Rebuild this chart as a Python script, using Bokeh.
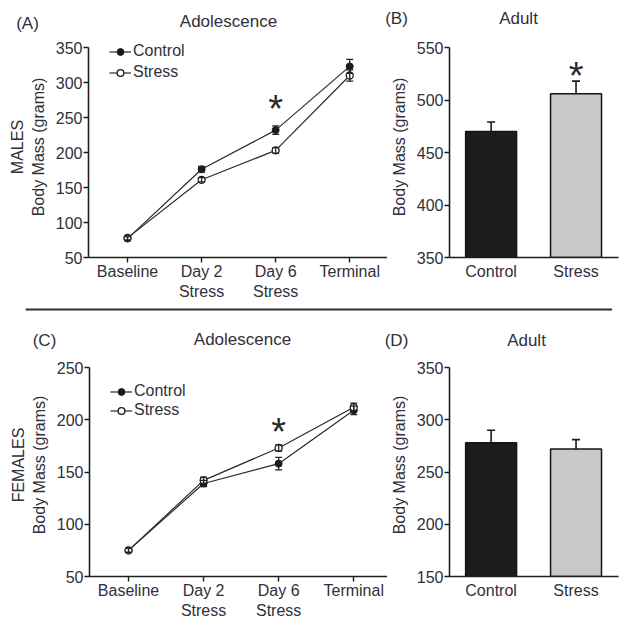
from bokeh.plotting import figure
from bokeh.models import (ColumnDataSource, Whisker, TeeHead, FixedTicker, Legend,
                          LegendItem, Label, Range1d, Span, Spacer)
from bokeh.layouts import column, row
from bokeh.embed import file_html
from bokeh.resources import INLINE
from bokeh.core.properties import value

# ---------------- data ----------------
timepoints = ["Baseline", "Day 2\nStress", "Day 6\nStress", "Terminal"]
male_control = [77, 176, 232, 323]
male_control_sem = [3, 4, 6, 10]
male_stress = [78, 161, 203, 310]
male_stress_sem = [3, 3, 4, 8]
female_control = [75, 139, 158, 209]
female_control_sem = [2, 3, 6, 4]
female_stress = [75, 142, 173, 212]
female_stress_sem = [2, 3, 3, 4]

groups = ["Control", "Stress"]
male_adult = [470, 506]
male_adult_sem = [9, 12]
female_adult = [278, 272]
female_adult_sem = [12, 9]

male_adol_ticks = [50, 100, 150, 200, 250, 300, 350]
female_adol_ticks = [50, 100, 150, 200, 250]
male_adult_ticks = [350, 400, 450, 500, 550]
female_adult_ticks = [150, 200, 250, 300, 350]

# significance asterisk anchors (x index, y value)
sig_A = (2, 262)
sig_B = (1, 523)
sig_C = (2, 188)

FONT = "Liberation Sans"
TXT = "#30303a"
AX = "#1e1e1e"
FS = "16px"


def style(p, yticks):
    p.outline_line_color = None
    p.xgrid.grid_line_color = None
    p.ygrid.grid_line_color = None
    p.background_fill_color = "white"
    p.border_fill_color = "white"
    for ax in (p.xaxis[0], p.yaxis[0]):
        ax.axis_line_color = AX
        ax.axis_line_width = 1.6
        ax.major_tick_line_color = AX
        ax.major_tick_line_width = 1.4
        ax.major_tick_out = 5
        ax.major_tick_in = 0
        ax.minor_tick_line_color = None
        ax.major_label_text_font = FONT
        ax.major_label_text_font_size = FS
        ax.major_label_text_color = TXT
        ax.axis_label_text_font = FONT
        ax.axis_label_text_font_size = FS
        ax.axis_label_text_font_style = "normal"
        ax.axis_label_text_color = TXT
    p.yaxis[0].ticker = FixedTicker(ticks=yticks)
    p.yaxis[0].bounds = (yticks[0], yticks[-1])
    p.yaxis[0].major_label_standoff = 1
    p.yaxis[0].axis_label_standoff = 6


def y_range_for(yticks, frame_top, axis_top, axis_bottom):
    # the frame reaches a few pixels above the top tick so that the legend fits
    per_px = (yticks[-1] - yticks[0]) / (axis_bottom - axis_top)
    return Range1d(yticks[0], yticks[-1] + (axis_top - frame_top) * per_px)


def line_panel(ctrl, ctrl_err, strs, strs_err, yticks, x_range, y_range, width, height,
               borders, ylabel, sig, legend_loc, legend_spacing):
    p = figure(width=width, height=height, output_backend="svg", toolbar_location=None,
               x_range=x_range, y_range=y_range,
               min_border_left=borders[0], min_border_right=borders[1],
               min_border_top=borders[2], min_border_bottom=borders[3])
    style(p, yticks)
    xs = list(range(len(timepoints)))
    p.xaxis[0].ticker = FixedTicker(ticks=xs)
    p.xaxis[0].major_label_overrides = {i: t for i, t in enumerate(timepoints)}
    p.xaxis[0].major_label_standoff = 0
    p.yaxis[0].axis_label = ylabel

    src_c = ColumnDataSource(dict(x=xs, y=ctrl,
                                  lo=[v - e for v, e in zip(ctrl, ctrl_err)],
                                  hi=[v + e for v, e in zip(ctrl, ctrl_err)]))
    src_s = ColumnDataSource(dict(x=xs, y=strs,
                                  lo=[v - e for v, e in zip(strs, strs_err)],
                                  hi=[v + e for v, e in zip(strs, strs_err)]))
    lc = p.line("x", "y", source=src_c, line_color="#2a2a2a", line_width=1.2)
    ls = p.line("x", "y", source=src_s, line_color="#2a2a2a", line_width=1.2)
    for src in (src_c, src_s):
        w = Whisker(base="x", lower="lo", upper="hi", source=src, line_color="#222",
                    line_width=1.3, level="glyph",
                    upper_head=TeeHead(size=7, line_color="#222", line_width=1.3),
                    lower_head=TeeHead(size=7, line_color="#222", line_width=1.3))
        p.add_layout(w)
    mc = p.scatter("x", "y", source=src_c, marker="circle", size=7,
                   fill_color="#1a1a1a", line_color="#1a1a1a")
    ms = p.scatter("x", "y", source=src_s, marker="circle", size=7,
                   fill_color="white", line_color="#1a1a1a", line_width=1.3)

    legend = Legend(items=[LegendItem(label="Control", renderers=[lc, mc]),
                           LegendItem(label="Stress", renderers=[ls, ms])],
                    location=legend_loc, label_text_font=FONT, label_text_font_size=FS,
                    label_text_color=TXT, glyph_width=22, glyph_height=17,
                    label_height=17, spacing=legend_spacing, padding=0, margin=0,
                    label_standoff=2, border_line_color=None, background_fill_alpha=0)
    p.add_layout(legend)

    p.text(x=[sig[0]], y=[sig[1]], text=["*"], text_font=value(FONT),
           text_font_size="38px", text_color="#2a2a2a", text_align="center",
           text_baseline="alphabetic")
    return p


def bar_panel(vals, errs, yticks, y_range, width, height, borders, sig):
    p = figure(width=width, height=height, output_backend="svg", toolbar_location=None,
               x_range=Range1d(-0.49, 1.5), y_range=y_range,
               min_border_left=borders[0], min_border_right=borders[1],
               min_border_top=borders[2], min_border_bottom=borders[3])
    style(p, yticks)
    xs = list(range(len(groups)))
    p.xaxis[0].ticker = FixedTicker(ticks=xs)
    p.xaxis[0].major_label_overrides = {i: g for i, g in enumerate(groups)}
    p.xaxis[0].major_tick_line_color = None
    p.xaxis[0].major_label_standoff = 0
    p.yaxis[0].axis_label = "Body Mass (grams)"
    src = ColumnDataSource(dict(x=xs, top=vals, hi=[v + e for v, e in zip(vals, errs)],
                                color=["#1c1c1c", "#c9c9c9"]))
    w = Whisker(base="x", lower="top", upper="hi", source=src, line_color="#1a1a1a",
                line_width=1.6, level="underlay", lower_head=None,
                upper_head=TeeHead(size=8, line_color="#1a1a1a", line_width=1.6))
    p.add_layout(w)
    p.vbar(x="x", top="top", bottom=yticks[0], width=0.6, source=src,
           fill_color="color", line_color="#141414", line_width=1.5)
    if sig is not None:
        p.text(x=[sig[0]], y=[sig[1]], text=["*"], text_font=value(FONT),
               text_font_size="38px", text_color="#2a2a2a", text_align="center",
               text_baseline="alphabetic")
    return p


def blank(width, height, x_end, y_end):
    h = figure(width=width, height=height, output_backend="svg", toolbar_location=None,
               x_range=Range1d(0, x_end), y_range=Range1d(0, y_end),
               x_axis_location=None, y_axis_location=None, min_border=0)
    h.outline_line_color = None
    h.xgrid.grid_line_color = None
    h.ygrid.grid_line_color = None
    return h


def header(height, labels):
    h = blank(623, height, 623, height)
    for text, x, y in labels:
        h.add_layout(Label(x=x, y=y, text=text, text_font=FONT, text_font_size="17px",
                           text_color=TXT, text_align="center", text_baseline="middle"))
    return h


# ---- top row (males): frame from y=36 to 257 px, top tick at 47 px ----
hdr1 = header(34, [("(A)", 27, 11), ("Adolescence", 228, 13),
                   ("(B)", 396, 16), ("Adult", 518, 16)])
pA = line_panel(male_control, male_control_sem, male_stress, male_stress_sem,
                male_adol_ticks, Range1d(-0.527, 3.51),
                y_range_for(male_adol_ticks, 36, 47, 257), 387, 271, (88, 0, 2, 48),
                "MALES\nBody Mass (grams)", sig_A, (21, 176), 3)
pB = bar_panel(male_adult, male_adult_sem, male_adult_ticks,
               y_range_for(male_adult_ticks, 36, 47, 257), 236, 271, (60, 5, 2, 48),
               sig_B)

# ---- separator rule between the male and female rows ----
sep_fig = blank(587, 10, 1, 1)
sep_fig.add_layout(Span(location=0.8, dimension="width", line_color="#2e2e2e",
                        line_width=2))
sep = row(Spacer(width=25, height=10), sep_fig)

# ---- bottom row (females): frame from y=353 to 576 px, top tick at 367 px ----
hdr2 = header(36, [("(C)", 44, 11), ("Adolescence", 242, 12),
                   ("(D)", 396, 11), ("Adult", 526, 11)])
pC = line_panel(female_control, female_control_sem, female_stress, female_stress_sem,
                female_adol_ticks, Range1d(-0.52, 3.45),
                y_range_for(female_adol_ticks, 353, 367, 576), 387, 270, (89, 0, 2, 45),
                "FEMALES\nBody Mass (grams)", sig_C, (21, 157), 1)
pD = bar_panel(female_adult, female_adult_sem, female_adult_ticks,
               y_range_for(female_adult_ticks, 353, 367, 576), 236, 270, (60, 5, 2, 45),
               None)

layout = column(hdr1, row(pA, pB), sep, hdr2, row(pC, pD))

with open("out.html", "w") as f:
    f.write(file_html(layout, INLINE))
